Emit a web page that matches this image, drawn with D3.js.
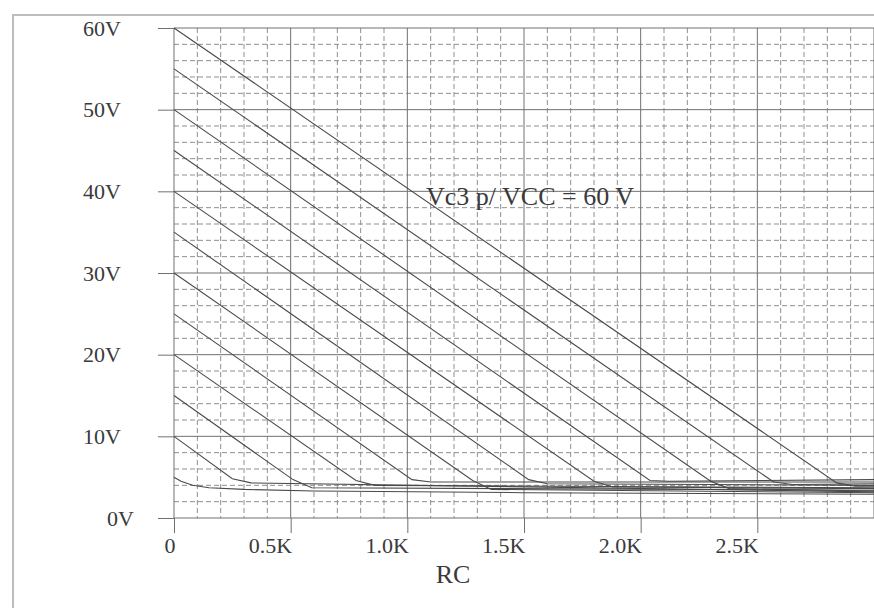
<!DOCTYPE html>
<meta charset="utf-8">
<style>
    body { margin: 0; background: #fff; }
    text {
        font-family: "Liberation Serif", "Times New Roman", serif;
        fill: #3a3a3a;
    }
    .frame { fill: none; stroke: #bdbdbd; stroke-width: 2; }
    .major { stroke: #707070; stroke-width: 1; }
    .minor { stroke: #8f8f8f; stroke-width: 1; stroke-dasharray: 5, 3; }
    .axis path { display: none; }
    .axis line { stroke: #707070; }
    .curve { fill: none; stroke: #4a4a4a; stroke-width: 1.1; }
</style>
<body>
    <svg width="874" height="608"></svg>
</body>

<script src="https://d3js.org/d3.v7.min.js"></script>
<script>

    // tick labels
    var xTicks = [0, 0.5, 1.0, 1.5, 2.0, 2.5];
    var xLabels = ["0", "0.5K", "1.0K", "1.5K", "2.0K", "2.5K"];
    var yTicks = [0, 10, 20, 30, 40, 50, 60];
    var yLabels = ["0V", "10V", "20V", "30V", "40V", "50V", "60V"];

    // lowest trace, VCC = 5 V (RC in K, volts)
    var lowRc = [0, 0.03, 0.08, 0.15, 0.3, 0.6, 1.5, 3.0];
    var lowV  = [5.0, 4.5, 4.0, 3.7, 3.5, 3.3, 3.1, 2.9];

    // straight traces, VCC = 10 .. 60 V
    var vcc    = [10, 15, 20, 25, 30, 35, 40, 45, 50, 55, 60];
    var kneeRc = [0.25, 0.51, 0.78, 1.02, 1.28, 1.52, 1.80, 2.04, 2.30, 2.57, 2.84];
    var kneeV  = [4.8, 4.7, 4.6, 4.7, 4.6, 4.7, 4.5, 4.6, 4.5, 4.4, 4.3];
    var satV   = [4.3, 3.7, 4.0, 4.4, 3.5, 4.2, 3.8, 4.5, 3.6, 4.1, 3.9];
    var endV   = [3.2, 3.4, 3.7, 4.4, 3.1, 4.0, 3.6, 4.7, 3.3, 4.2, 3.9];

    var svg = d3.select("svg");

    var x = d3.scaleLinear().domain([0, 3]).range([174, 874]);
    var y = d3.scaleLinear().domain([0, 60]).range([518, 28]);

    // outer frame
    svg.append("rect")
            .attr("class", "frame")
            .attr("x", 13).attr("y", 15)
            .attr("width", 900).attr("height", 700);

    // minor grid (0.1K, 2V)
    var grid = svg.append("g");
    grid.selectAll(".vminor")
            .data(d3.range(1, 30).filter(function (i) { return i % 5 !== 0; }))
            .enter().append("line")
            .attr("class", "minor")
            .attr("x1", function (i) { return x(i / 10); })
            .attr("x2", function (i) { return x(i / 10); })
            .attr("y1", y(60)).attr("y2", y(0));
    grid.selectAll(".hminor")
            .data(d3.range(1, 30).filter(function (i) { return i % 5 !== 0; }))
            .enter().append("line")
            .attr("class", "minor")
            .attr("y1", function (i) { return y(i * 2); })
            .attr("y2", function (i) { return y(i * 2); })
            .attr("x1", x(0)).attr("x2", x(3));

    // major grid
    grid.selectAll(".vmajor")
            .data([0, 0.5, 1, 1.5, 2, 2.5, 3])
            .enter().append("line")
            .attr("class", "major")
            .attr("x1", function (d) { return x(d); })
            .attr("x2", function (d) { return x(d); })
            .attr("y1", y(60)).attr("y2", y(0));
    grid.selectAll(".hmajor")
            .data(yTicks)
            .enter().append("line")
            .attr("class", "major")
            .attr("y1", function (d) { return y(d); })
            .attr("y2", function (d) { return y(d); })
            .attr("x1", x(0)).attr("x2", x(3));

    // axes
    var yAxis = svg.append("g")
            .attr("class", "axis")
            .attr("transform", "translate(" + x(0) + ",0)")
            .call(d3.axisLeft(y)
                    .tickValues(yTicks)
                    .tickSize(16)
                    .tickPadding(38)
                    .tickFormat(function (d, i) { return yLabels[i]; }));
    yAxis.selectAll("text")
            .attr("font-size", 22)
            .attr("font-family", null)
            .attr("x", function (d) { return d === 0 ? -40 : -53; });

    var xAxis = svg.append("g")
            .attr("class", "axis")
            .attr("transform", "translate(0," + y(0) + ")")
            .call(d3.axisBottom(x)
                    .tickValues(xTicks)
                    .tickSize(15)
                    .tickFormat(function (d, i) { return xLabels[i]; }));
    xAxis.selectAll("text")
            .attr("font-size", 22)
            .attr("font-family", null)
            .attr("text-anchor", "end")
            .attr("x", 1)
            .attr("y", 35)
            .attr("dy", 0);

    // traces
    var series = [lowRc.map(function (r, j) { return [r, lowV[j]]; })];
    vcc.forEach(function (v, i) {
        series.push([[0, v], [kneeRc[i], kneeV[i]], [kneeRc[i] + 0.08, satV[i]], [3, endV[i]]]);
    });

    var line = d3.line()
            .x(function (d) { return x(d[0]); })
            .y(function (d) { return y(d[1]); });

    svg.append("g").selectAll(".curve")
            .data(series)
            .enter().append("path")
            .attr("class", "curve")
            .attr("d", line);

    // labels
    svg.append("text")
            .attr("x", 426).attr("y", 205)
            .attr("font-size", 26)
            .text("Vc3 p/ VCC = 60 V");

    svg.append("text")
            .attr("x", 453).attr("y", 583)
            .attr("text-anchor", "middle")
            .attr("font-size", 26)
            .text("RC");

</script>
